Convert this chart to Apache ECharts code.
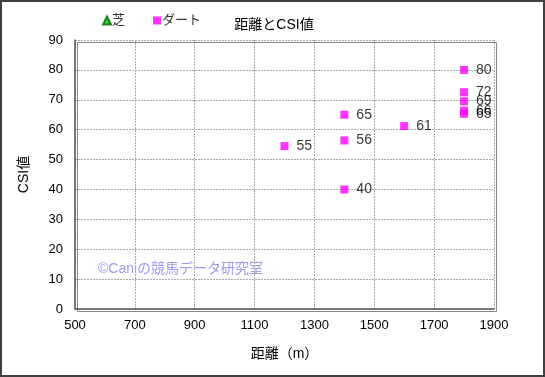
<!DOCTYPE html>
<html><head><meta charset="utf-8">
<script src="https://cdn.jsdelivr.net/npm/echarts@6/dist/echarts.min.js"></script>
<style>html,body{margin:0;padding:0;background:#fff}#c{width:545px;height:377px;box-sizing:border-box;border:2px solid #404040}</style>
</head><body><div id="c"></div>
<script>
const dirtX = [1200, 1400, 1400, 1400, 1600, 1800, 1800, 1800, 1800, 1800];
const dirtY = [54.5, 65, 56.4, 40, 61.2, 80, 72.5, 69.5, 66.3, 65.3];
const dirtLabels = ['55', '65', '56', '40', '61', '80', '72', '69', '66', '65'];
const turfX = [];
const turfY = [];
const xTicks = [500, 700, 900, 1100, 1300, 1500, 1700, 1900];
const yTicks = [0, 10, 20, 30, 40, 50, 60, 70, 80, 90];

const font = '"Liberation Sans", "Noto Sans CJK JP", sans-serif';
const chart = echarts.init(document.getElementById('c'));
chart.setOption({
  animation: false,
  textStyle: {fontFamily: font},
  title: {text: '距離とCSI値', left: 267, top: 11, textAlign: 'center',
    textStyle: {fontSize: 14, fontWeight: 'normal', color: '#000', fontFamily: font}},
  legend: {left: 95, top: 7, itemGap: 28, itemWidth: 8, itemHeight: 8,
    textStyle: {fontSize: 13, color: '#333', padding: [0,0,0,-4]},
    data: [{name: '芝', icon: 'triangle'}, {name: 'ダート', icon: 'rect'}]},
  grid: {left: 73, right: 49, top: 38, bottom: 66},
  xAxis: {type: 'value', min: xTicks[0], max: xTicks[xTicks.length-1], interval: 200,
    name: '距離（m）', nameLocation: 'middle', nameGap: 38,
    nameTextStyle: {fontSize: 14, color: '#000'},
    axisLine: {lineStyle: {color: '#555', width: 1.5}},
    axisTick: {show: false},
    axisLabel: {fontSize: 13, color: '#000', margin: 10, formatter: v => String(v)},
    splitLine: {show: true, lineStyle: {color: '#aaa', type: [2, 1]}}},
  yAxis: {type: 'value', min: yTicks[0], max: yTicks[yTicks.length-1], interval: 10,
    name: 'CSI値', nameLocation: 'middle', nameGap: 44,
    nameTextStyle: {fontSize: 14, color: '#000'},
    axisLine: {show: true, lineStyle: {color: '#555', width: 1.5}},
    axisTick: {show: false},
    axisLabel: {fontSize: 13, color: '#000', margin: 12},
    splitLine: {show: true, lineStyle: {color: '#aaa', type: [2, 1]}}},
  graphic: [
    {type: 'rect', left: 73, top: 38, shape: {width: 419, height: 269}, silent: true,
     style: {fill: 'none', stroke: '#888', lineWidth: 1}},
    {type: 'text', left: 96, top: 260, silent: true,
     style: {text: '©Caniの競馬データ研究室', fontSize: 14, fill: '#9a9af0', fontFamily: font}}
  ],
  series: [
    {name: '芝', type: 'scatter', symbol: 'triangle', symbolSize: 9,
     itemStyle: {color: '#00cc00', borderColor: '#006600', borderWidth: 0.5},
     data: turfX.map((x, i) => [x, turfY[i]])},
    {name: 'ダート', type: 'scatter', symbol: 'rect', symbolSize: 8,
     itemStyle: {color: '#ff00ff'},
     label: {show: true, position: 'right', distance: 8, fontSize: 14, color: '#000',
       formatter: p => dirtLabels[p.dataIndex]},
     data: dirtX.map((x, i) => [x, dirtY[i]])}
  ]
});
</script></body></html>
